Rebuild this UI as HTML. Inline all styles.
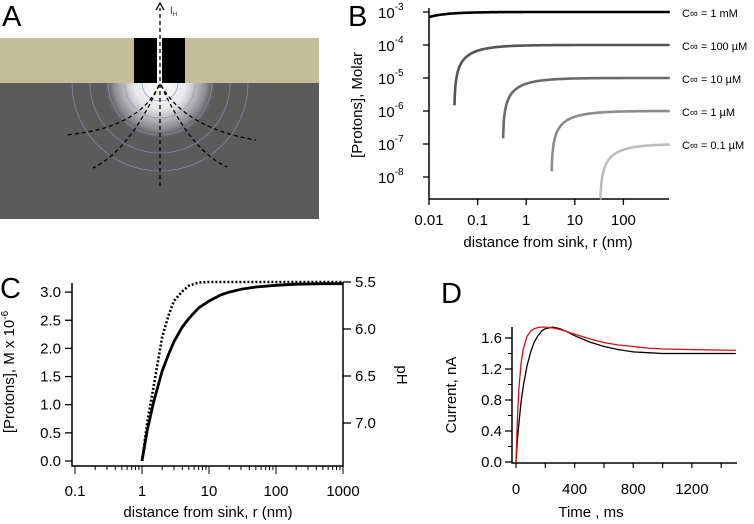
<!DOCTYPE html>
<html><head><meta charset="utf-8"><style>
body{margin:0;background:#fff}
svg{display:block;font-family:"Liberation Sans",sans-serif}
</style></head><body>
<svg id="fig" width="754" height="524" viewBox="0 0 754 524">
<defs>
<radialGradient id="glow" cx="160" cy="83" r="58" gradientUnits="userSpaceOnUse">
<stop offset="0" stop-color="#fff"/><stop offset="0.45" stop-color="#e8e8ea"/><stop offset="0.8" stop-color="#8a8a8e"/><stop offset="1" stop-color="#5b5b5b" stop-opacity="0"/>
</radialGradient>
<clipPath id="gclip"><rect x="0" y="83" width="319" height="136"/></clipPath>
</defs>
<g>
<text x="2" y="26" font-size="29">A</text>
<rect x="0" y="83" width="319" height="136" fill="#5b5b5b"/>
<g clip-path="url(#gclip)">
<circle cx="160" cy="83" r="60" fill="url(#glow)"/>
<g fill="none" stroke="#8a95b5" stroke-width="0.8" opacity="0.8">
<circle cx="160" cy="83" r="18"/><circle cx="160" cy="83" r="35"/><circle cx="160" cy="83" r="52"/><circle cx="160" cy="83" r="70"/><circle cx="160" cy="83" r="88"/></g>
</g>
<rect x="0" y="38" width="319" height="45" fill="#c4bd9c"/>
<rect x="134" y="38" width="51" height="45" fill="#000"/>
<rect x="157" y="38" width="5" height="45" fill="#fff"/>
<g fill="none" stroke="#000" stroke-width="1.3" stroke-dasharray="4,3">
<path d="M159,85 Q140,128 66,135"/><path d="M159,85 Q130,150 93,168"/><path d="M161,85 Q185,128 256,140"/><path d="M161,85 Q190,150 227,167"/>
</g>
<line x1="160" y1="186" x2="160" y2="8" stroke="#000" stroke-width="1.3" stroke-dasharray="4,3"/>
<path d="M156,10 L160,3 L164,10" fill="none" stroke="#000" stroke-width="1.3"/>
<text x="170" y="14" font-size="10" fill="#333">I<tspan font-size="6" dy="2">H</tspan></text>
</g>
<g id="pb">
<text x="348" y="26" font-size="29">B</text>
<text transform="translate(362,105) rotate(-90)" text-anchor="middle" font-size="15">[Protons], Molar</text>
<text x="548" y="247" text-anchor="middle" font-size="15">distance from sink, r (nm)</text>
</g>
<g id="pc">
<text x="0" y="298" font-size="29">C</text>
<text transform="translate(14,372) rotate(-90)" text-anchor="middle" font-size="15">[Protons], M x 10<tspan font-size="10" dy="-6">-6</tspan></text>
<text transform="translate(397,375) rotate(90)" text-anchor="middle" font-size="15">pH</text>
<text x="208" y="517" text-anchor="middle" font-size="15">distance from sink, r (nm)</text>
</g>
<g id="pd">
<text x="441" y="303" font-size="29">D</text>
<text transform="translate(456,395) rotate(-90)" text-anchor="middle" font-size="15">Current, nA</text>
<text x="591" y="517" text-anchor="middle" font-size="15">Time , ms</text>
</g>
</svg>
<script>
const bConc = [1e-3, 1e-4, 1e-5, 1e-6, 1e-7];
const bStartR = [0.01, 0.0335, 0.335, 3.35, 33.5];
const bSinkR = [0.003, 0.033, 0.33, 3.3, 33];
const bColors = ['#000', '#555', '#6a6a6a', '#8c8c8c', '#bdbdbd'];
const bLabels = ['C\u221e = 1 mM', 'C\u221e = 100 \u00b5M', 'C\u221e = 10 \u00b5M', 'C\u221e = 1 \u00b5M', 'C\u221e = 0.1 \u00b5M'];
const bXTicks = [0.01, 0.1, 1, 10, 100];
const bYTicks = [-3, -4, -5, -6, -7, -8];
const cR = [1, 1.2, 1.5, 2, 2.5, 3, 4, 5, 7, 10, 15, 20, 30, 50, 100, 200, 500, 1000];
const cConc = [0, 0.55, 1.06, 1.6, 1.9, 2.12, 2.38, 2.53, 2.72, 2.84, 2.95, 3.0, 3.05, 3.09, 3.12, 3.14, 3.15, 3.15];
const cPH = [7.5, 6.99, 6.6, 6.085, 5.85, 5.70, 5.6, 5.54, 5.505, 5.5, 5.5, 5.5, 5.5, 5.5, 5.5, 5.5, 5.5, 5.5];
const cXTicks = [0.1, 1, 10, 100, 1000];
const cYTicks = [0, 0.5, 1, 1.5, 2, 2.5, 3];
const cY2Ticks = [5.5, 6.0, 6.5, 7.0];
const dTime = [0, 10, 20, 35, 50, 75, 100, 125, 150, 175, 200, 250, 300, 350, 400, 500, 600, 700, 800, 900, 1000, 1200, 1500];
const dBlack = [0, 0.3, 0.5, 0.78, 0.98, 1.24, 1.42, 1.55, 1.63, 1.69, 1.72, 1.74, 1.72, 1.68, 1.63, 1.55, 1.49, 1.45, 1.42, 1.41, 1.40, 1.40, 1.40];
const dRed = [0, 0.6, 0.95, 1.28, 1.46, 1.62, 1.69, 1.72, 1.735, 1.74, 1.74, 1.73, 1.71, 1.68, 1.65, 1.59, 1.54, 1.51, 1.49, 1.47, 1.46, 1.45, 1.44];
const dXTicks = [0, 400, 800, 1200];
const dYTicks = [0, 0.4, 0.8, 1.2, 1.6];

const NS = 'http://www.w3.org/2000/svg';
function mk(parent, tag, attrs, text) {
  const e = document.createElementNS(NS, tag);
  for (const k in attrs) e.setAttribute(k, attrs[k]);
  if (text !== undefined) e.textContent = text;
  parent.appendChild(e); return e;
}
const pb = document.getElementById('pb'), pc = document.getElementById('pc'), pd = document.getElementById('pd');

const bx = r => 429 + (Math.log10(r) + 2) * 48.6;
const by = lg => 12 + (-3 - lg) * 33;
let ax = mk(pb, 'path', {d: 'M429,8 L429,199 L669,199', fill: 'none', stroke: '#000', 'stroke-width': 1.5});


bXTicks.forEach(t => {
  const x = bx(t);
  mk(pb, 'line', {x1: x, y1: 199, x2: x, y2: 205, stroke: '#000', 'stroke-width': 1.3});
  const l = mk(pb, 'text', {x: x, y: 225, 'text-anchor': 'middle', 'font-size': 15}, String(t));
  
  
});
bYTicks.forEach(p => {
  const y = by(p);
  mk(pb, 'line', {x1: 423, y1: y, x2: 429, y2: y, stroke: '#000', 'stroke-width': 1.3});
  const l = mk(pb, 'text', {x: 378, y: y + 6, 'font-size': 15}, '10');
  mk(l, 'tspan', {'font-size': 10, dy: -8}, String(p));
  
  
});
bConc.forEach((c, i) => {
  const pts = [];
  const r0 = bStartR[i];
  for (let k = 0; k <= 120; k++) {
    const r = r0 * Math.pow(900 / r0, Math.pow(k / 120, 1.6));
    const v = c * (1 - bSinkR[i] / r);
    const lg = Math.max(Math.log10(v), -8.65);
    pts.push(bx(r).toFixed(1) + ',' + by(lg).toFixed(1));
  }
  const pl = mk(pb, 'polyline', {points: pts.join(' '), fill: 'none', stroke: bColors[i], 'stroke-width': 2.6});
  
  
  const lb = mk(pb, 'text', {x: 682, y: by(Math.log10(c)) + 5, 'font-size': 11}, bLabels[i]);
  
  
});

const cx = r => 142 + Math.log10(r) * 67;
const cy = v => 461 - v * 56.3;
const cy2 = p => 282 + (p - 5.5) * 94;
ax = mk(pc, 'path', {d: 'M72,283 L72,466 L343,466 L343,282', fill: 'none', stroke: '#000', 'stroke-width': 1.5});


for (let d = -1; d < 3; d++) for (let m = 1; m <= 10; m++) {
  const x = cx(m * Math.pow(10, d));
  mk(pc, 'line', {x1: x, y1: 466, x2: x, y2: (m === 1 || m === 10) ? 474 : 470, stroke: '#000', 'stroke-width': 1});
}
cXTicks.forEach(t => {
  const l = mk(pc, 'text', {x: cx(t), y: 496, 'text-anchor': 'middle', 'font-size': 15}, String(t));
  
  
});
cYTicks.forEach(t => {
  mk(pc, 'line', {x1: 65, y1: cy(t), x2: 72, y2: cy(t), stroke: '#000', 'stroke-width': 1.3});
  const l = mk(pc, 'text', {x: 61, y: cy(t) + 5, 'text-anchor': 'end', 'font-size': 15}, t.toFixed(1));
  
  
});
cY2Ticks.forEach(t => {
  mk(pc, 'line', {x1: 343, y1: cy2(t), x2: 351, y2: cy2(t), stroke: '#000', 'stroke-width': 1.3});
  const l = mk(pc, 'text', {x: 355, y: cy2(t) + 5, 'font-size': 15}, t.toFixed(1));
  
  
});
let pl = mk(pc, 'polyline', {points: cR.map((r, i) => cx(r).toFixed(1) + ',' + cy(cConc[i]).toFixed(1)).join(' '), fill: 'none', stroke: '#000', 'stroke-width': 2.8, 'stroke-linejoin': 'round'});


pl = mk(pc, 'polyline', {points: cR.map((r, i) => cx(r).toFixed(1) + ',' + Math.min(cy2(cPH[i]), 461).toFixed(1)).join(' '), fill: 'none', stroke: '#000', 'stroke-width': 2.6, 'stroke-dasharray': '2,2'});



const dx = t => 516 + t * 0.1466;
const dy = v => 462 - v * 77.5;
ax = mk(pd, 'path', {d: 'M512,327 L512,463 L737,463', fill: 'none', stroke: '#000', 'stroke-width': 1.5});


for (let t = 0; t <= 1400; t += 200) mk(pd, 'line', {x1: dx(t), y1: 463, x2: dx(t), y2: 468, stroke: '#000', 'stroke-width': 1.2});
for (let v = 0; v <= 1.7; v += 0.2) mk(pd, 'line', {x1: 508, y1: dy(v), x2: 512, y2: dy(v), stroke: '#000', 'stroke-width': 1});
dXTicks.forEach(t => {
  const l = mk(pd, 'text', {x: dx(t), y: 494, 'text-anchor': 'middle', 'font-size': 15}, String(t));
  
  
});
dYTicks.forEach(t => {
  mk(pd, 'line', {x1: 505, y1: dy(t), x2: 512, y2: dy(t), stroke: '#000', 'stroke-width': 1.3});
  const l = mk(pd, 'text', {x: 502, y: dy(t) + 5, 'text-anchor': 'end', 'font-size': 15}, t.toFixed(1));
  
  
});
pl = mk(pd, 'polyline', {points: dTime.map((t, i) => dx(t).toFixed(1) + ',' + dy(dBlack[i]).toFixed(1)).join(' '), fill: 'none', stroke: '#000', 'stroke-width': 1.3});


pl = mk(pd, 'polyline', {points: dTime.map((t, i) => dx(t).toFixed(1) + ',' + dy(dRed[i]).toFixed(1)).join(' '), fill: 'none', stroke: '#d01010', 'stroke-width': 1.3});


</script>
</body></html>
